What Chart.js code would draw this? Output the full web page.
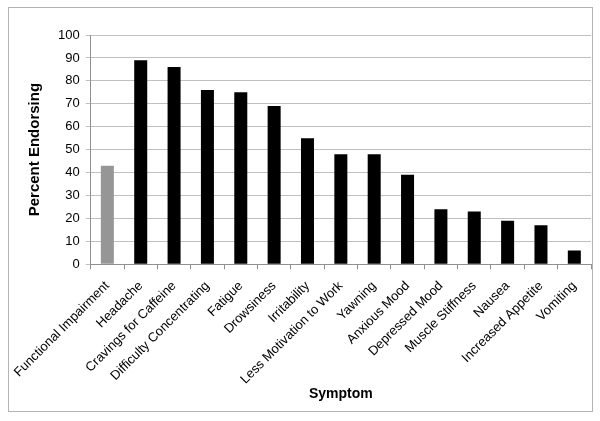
<!DOCTYPE html>
<html>
<head>
<meta charset="utf-8">
<script src="https://cdn.jsdelivr.net/npm/chart.js@4"></script>
<style>
  html, body { margin: 0; padding: 0; background: #fff; }
  #wrap { width: 600px; height: 421px; }
</style>
</head>
<body>
<div id="wrap"><canvas id="chart" width="600" height="421"></canvas></div>
<script>
const symptoms = ['Functional Impairment', 'Headache', 'Cravings for Caffeine', 'Difficulty Concentrating',
    'Fatigue', 'Drowsiness', 'Irritability', 'Less Motivation to Work', 'Yawning', 'Anxious Mood',
    'Depressed Mood', 'Muscle Stiffness', 'Nausea', 'Increased Appetite', 'Vomiting'];
const percentEndorsing = [43, 89, 86, 76, 75, 69, 55, 48, 48, 39, 24, 23, 19, 17, 6];
const barColors = ['#969696', '#000', '#000', '#000', '#000', '#000', '#000', '#000', '#000', '#000', '#000', '#000', '#000', '#000', '#000'];

// outer frame like the spreadsheet chart border
const frame = {
    id: 'frame',
    beforeDraw(chart) {
        const ctx = chart.ctx;
        ctx.save();
        ctx.fillStyle = '#fff';
        ctx.fillRect(0, 0, chart.width, chart.height);
        ctx.strokeStyle = '#b4b4b4';
        ctx.lineWidth = 1;
        ctx.strokeRect(8.5, 7.5, 584, 404);
        ctx.restore();
    }
};

Chart.defaults.font.family = '"Liberation Sans", Arial, sans-serif';
Chart.defaults.color = '#000';

new Chart(document.getElementById('chart'), {
    type: 'bar',
    data: {
        labels: symptoms,
        datasets: [{
            label: 'Percent Endorsing',
            data: percentEndorsing,
            backgroundColor: barColors,
            barPercentage: 0.39,
            categoryPercentage: 1.0
        }]
    },
    options: {
        responsive: false,
        animation: false,
        layout: { padding: { left: 22, right: 9, top: 35, bottom: 18 } },
        plugins: {
            legend: { display: false },
            tooltip: { enabled: false }
        },
        scales: {
            x: {
                grid: { display: true, drawOnChartArea: false, drawTicks: true, tickLength: 5, color: '#909090', offset: true },
                border: { color: '#909090' },
                ticks: { font: { size: 13 }, maxRotation: 45, minRotation: 45, autoSkip: false, padding: 9 },
                title: { display: true, text: 'Symptom', font: { size: 14, weight: 'bold' }, padding: { top: -10, bottom: 0 } }
            },
            y: {
                min: 0,
                max: 100,
                grid: { color: '#c0c0c0', tickLength: 5, drawTicks: true },
                border: { color: '#909090' },
                ticks: { stepSize: 10, font: { size: 13 }, padding: 6 },
                title: { display: true, text: 'Percent Endorsing', font: { size: 15, weight: 'bold' }, padding: { bottom: 8 } }
            }
        }
    },
    plugins: [frame]
});
</script>
</body>
</html>
